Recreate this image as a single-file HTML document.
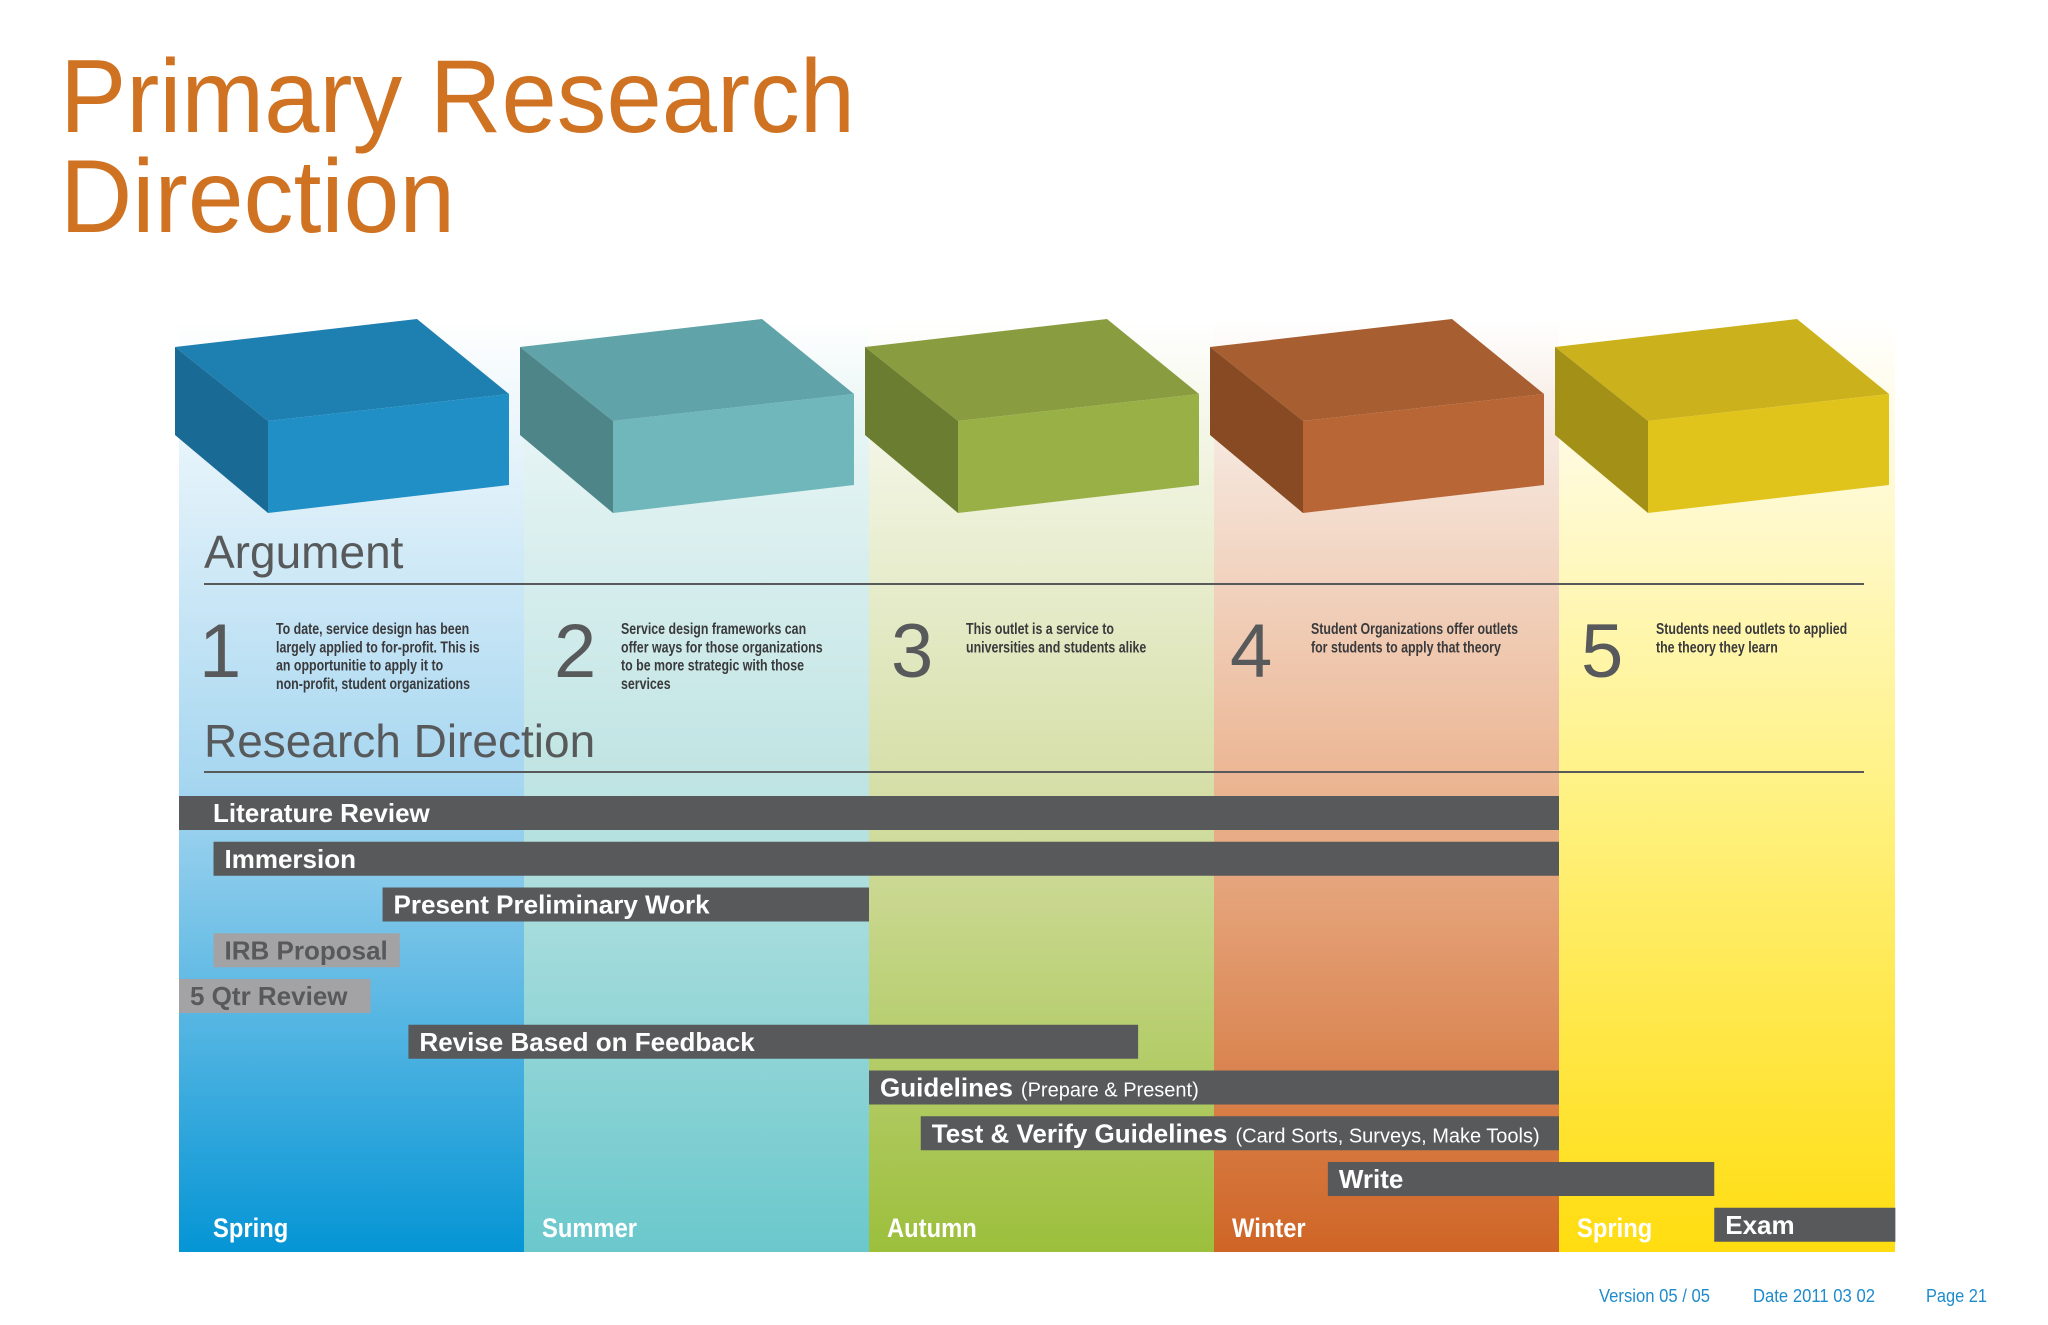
<!DOCTYPE html>
<html><head><meta charset="utf-8">
<style>
html,body{margin:0;padding:0;background:#fff;width:2048px;height:1325px;overflow:hidden}
svg text{font-family:"Liberation Sans Narrow","Liberation Sans",sans-serif}
.t{font-family:"Liberation Sans",sans-serif}
</style></head>
<body>
<svg id="chart" width="2048" height="1325" viewBox="0 0 2048 1325" xmlns="http://www.w3.org/2000/svg">
<defs>
<linearGradient id="g0" x1="0" y1="0" x2="0" y2="1"><stop offset="0" stop-color="#fff"/><stop offset="0.12" stop-color="#e9f5fb"/><stop offset="0.5" stop-color="#a6d6f0"/><stop offset="1" stop-color="#0595d5"/></linearGradient>
<linearGradient id="g1" x1="0" y1="0" x2="0" y2="1"><stop offset="0" stop-color="#fff"/><stop offset="0.12" stop-color="#e6f4f4"/><stop offset="0.5" stop-color="#bfe4e3"/><stop offset="1" stop-color="#6ac8cc"/></linearGradient>
<linearGradient id="g2" x1="0" y1="0" x2="0" y2="1"><stop offset="0" stop-color="#fff"/><stop offset="0.12" stop-color="#f3f6e6"/><stop offset="0.5" stop-color="#d6dfa8"/><stop offset="1" stop-color="#9cbf3c"/></linearGradient>
<linearGradient id="g3" x1="0" y1="0" x2="0" y2="1"><stop offset="0" stop-color="#fff"/><stop offset="0.12" stop-color="#f6e8df"/><stop offset="0.5" stop-color="#ebb592"/><stop offset="1" stop-color="#cf6526"/></linearGradient>
<linearGradient id="g4" x1="0" y1="0" x2="0" y2="1"><stop offset="0" stop-color="#fff"/><stop offset="0.12" stop-color="#fffbe2"/><stop offset="0.5" stop-color="#fff285"/><stop offset="1" stop-color="#ffdd10"/></linearGradient>
</defs>
<g fill="#cf7222" font-size="104">
<text x="60" y="132" class="t" textLength="795" lengthAdjust="spacingAndGlyphs">Primary Research</text>
<text x="60" y="232" class="t" textLength="395" lengthAdjust="spacingAndGlyphs">Direction</text>
</g>
<g id="cols"></g>
<g id="boxes"></g>
<text x="204" y="568" font-size="46" fill="#58595b" class="t">Argument</text>
<rect x="204" y="583" width="1660" height="2" fill="#58595b"/>
<g id="args"></g>
<text x="204" y="757" font-size="46" fill="#58595b" class="t">Research Direction</text>
<rect x="204" y="771" width="1660" height="2" fill="#58595b"/>
<g id="bars"></g>
<g id="seasons"></g>
<g fill="#1e8bcb" font-size="18">
<text x="1599" y="1302" textLength="111" lengthAdjust="spacingAndGlyphs">Version 05 / 05</text>
<text x="1753" y="1302" textLength="122" lengthAdjust="spacingAndGlyphs">Date 2011 03 02</text>
<text x="1926" y="1302" textLength="61" lengthAdjust="spacingAndGlyphs">Page 21</text>
</g>
</svg>
<script>
const seasons = ["Spring","Summer","Autumn","Winter","Spring"];
const argNums = ["1","2","3","4","5"];
const argTexts = [
 ["To date, service design has been","largely applied to for-profit. This is","an opportunitie to apply it to","non-profit, student organizations"],
 ["Service design frameworks can","offer ways for those organizations","to be more strategic with those","services"],
 ["This outlet is a service to","universities and students alike"],
 ["Student Organizations offer outlets","for students to apply that theory"],
 ["Students need outlets to applied","the theory they learn"]
];
const taskNames = ["Literature Review","Immersion","Present Preliminary Work","IRB Proposal","5 Qtr Review","Revise Based on Feedback","Guidelines","Test & Verify Guidelines","Write","Exam"];
const taskNotes = ["","","","","","","(Prepare & Present)","(Card Sorts, Surveys, Make Tools)","",""];
const taskStart = [0,0.1,0.59,0.1,0,0.665,2,2.15,3.33,4.45];
const taskEnd = [4,4,2,0.64,0.555,2.78,4,4,4.45,4.975];
const taskMinor = [false,false,false,true,true,false,false,false,false,false];

const NS="http://www.w3.org/2000/svg";
const X0=179, QW=345, TOP=320, BOT=1252, ROW0=796, ROWH=45.75, BH=34;
const x = q => X0 + q*QW;
const rowY = i => ROW0 + i*ROWH;
function mk(tag, attrs, parent){const e=document.createElementNS(NS,tag);for(const k in attrs)e.setAttribute(k,attrs[k]);parent.appendChild(e);return e;}
const cols=document.getElementById('cols'), boxes=document.getElementById('boxes'), args=document.getElementById('args'), bars=document.getElementById('bars'), sl=document.getElementById('seasons');
const boxCol=[["#1e7fb1","#1f8fc6","#1a6a96"],["#60a3a8","#6fb7ba","#4e8589"],["#8a9c40","#98b046","#6b7d31"],["#a75f31","#b86636","#874a23"],["#cbb11b","#e1c41b","#a39016"]];
const numDx=[20,30,22,16,22];
const labDx=[34,18,18,18,18];
seasons.forEach((s,i)=>{
  const w = i===4 ? 336 : QW+1;
  const c=mk('rect',{x:x(i),y:TOP,width:w,height:BOT-TOP,fill:`url(#g${i})`},cols);
  
  
  const bx=x(i)-4;
  const g=mk('g',{},boxes);
  
  
  mk('polygon',{points:`${bx},347 ${bx+242},319 ${bx+334},394 ${bx+93},421`,fill:boxCol[i][0]},g);
  mk('polygon',{points:`${bx+93},421 ${bx+334},394 ${bx+334},485 ${bx+93},513`,fill:boxCol[i][1]},g);
  mk('polygon',{points:`${bx},347 ${bx+93},421 ${bx+93},513 ${bx},435`,fill:boxCol[i][2]},g);
  const n=mk('text',{x:x(i)+numDx[i],y:677,'font-size':76,fill:'#58595b',class:'t'},args);
  n.textContent=argNums[i];
  
  
  const tg=mk('g',{transform:`translate(${x(i)+97},634) scale(0.8,1)`},args);
  const t=mk('text',{x:0,y:0,'font-size':15.5,fill:'#3a3a3c','font-weight':'bold'},tg);
  
  
  argTexts[i].forEach((ln,j)=>{const sp=mk('tspan',{x:0,dy:j?18.3:0},t);sp.textContent=ln;});
  const lg=mk('g',{transform:`translate(${x(i)+labDx[i]},1237) scale(0.88,1)`},sl);
  const lab=mk('text',{x:0,y:0,'font-size':27,fill:'#fff','font-weight':'bold'},lg);
  lab.textContent=s;
  
  
});
taskNames.forEach((nm,i)=>{
  const g=mk('g',{},bars);
  
  
  const x1=x(taskStart[i]), x2=x(taskEnd[i]);
  mk('rect',{x:x1,y:rowY(i),width:x2-x1,height:BH,fill:taskMinor[i]?'#a3a3a5':'#58595b'},g);
  const t=mk('text',{x:x1+(i===0?34:11),y:rowY(i)+26,'font-size':26,'font-weight':'bold',fill:taskMinor[i]?'#58595b':'#fff'},g);
  t.textContent=nm;
  if(taskNotes[i]){const sp=mk('tspan',{'font-size':20,'font-weight':'normal',dx:8},t);sp.textContent=taskNotes[i];}
});
</script>
</body></html>
